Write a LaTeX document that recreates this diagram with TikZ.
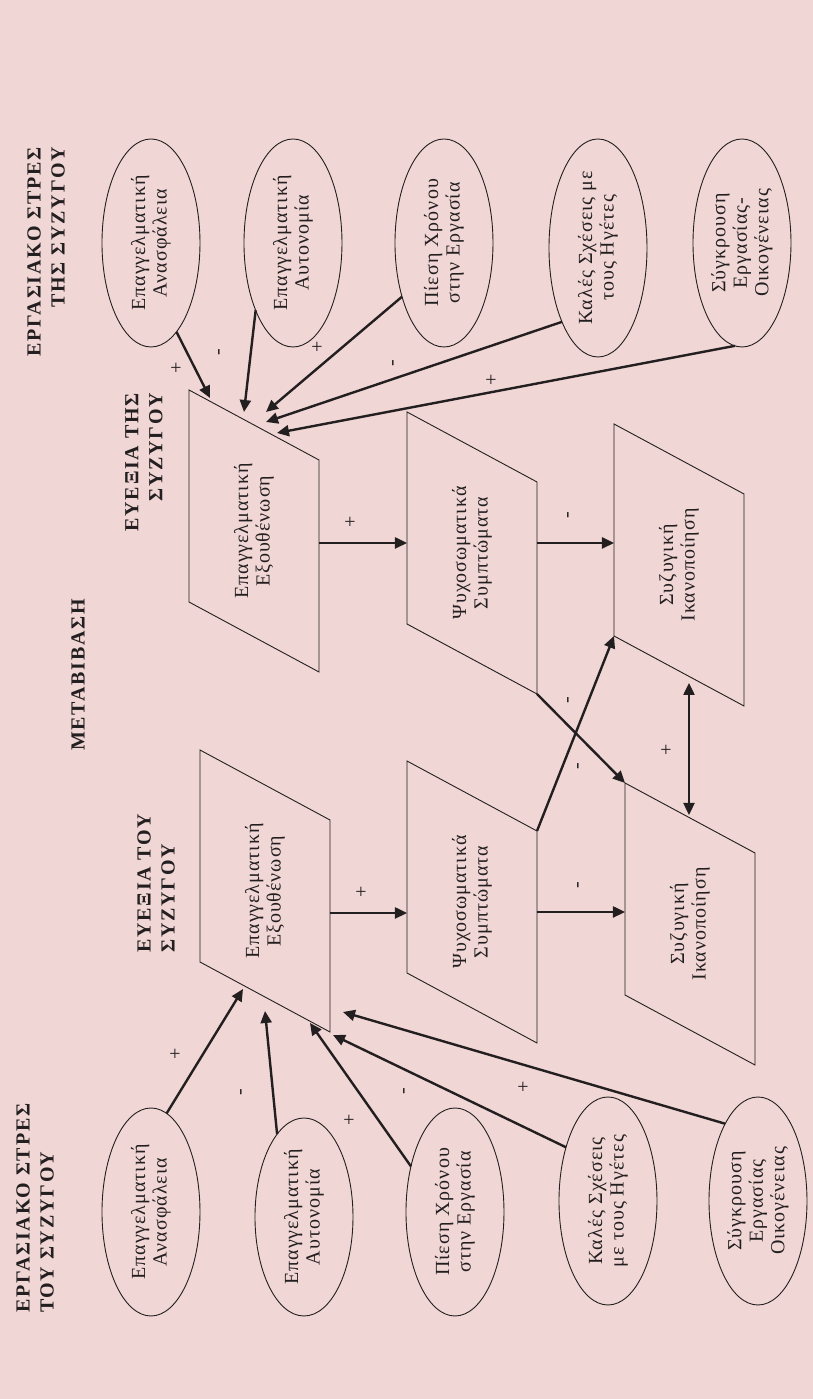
\documentclass[tikz,border=0pt]{standalone}
\usepackage{fontspec}
\setmainfont{Liberation Serif}[LetterSpace=5]
\newfontfamily\headfont[LetterSpace=9]{Liberation Serif}
\usetikzlibrary{arrows.meta,shapes.geometric,calc}

\definecolor{paper}{RGB}{240,214,212}
\definecolor{ink}{RGB}{35,31,32}

\tikzset{
  factor/.style={ellipse, draw=ink, line width=0.9pt, minimum width=208pt,
    minimum height=98pt, inner sep=0pt, outer sep=0pt, align=center,
    text=ink, font=\fontsize{20}{21.5}\selectfont},
  plate/.style={align=center, text=ink, font=\fontsize{20}{21.5}\selectfont},
  box/.style={draw=ink, line width=0.9pt},
  head/.style={inner sep=0pt, text=ink, font=\headfont\bfseries\fontsize{20}{24}\selectfont},
  sgn/.style={inner sep=0pt, text=ink, font=\fontsize{20}{21}\selectfont},
  arr/.style={draw=ink, line width=2.4pt, -{Triangle[length=12pt,width=11pt]}},
}

\begin{document}
\begin{tikzpicture}[x=1pt, y=1pt, rotate=90, transform shape]
    % page
    \useasboundingbox (0,0) rectangle (1399,812);
    \fill[paper] (-3,-3) rectangle (1402,815);

    % Titles
    \node[head, align=right, anchor=east] (hTopStress) at (1252,766) {ΕΡΓΑΣΙΑΚΟ ΣΤΡΕΣ\\ΤΗΣ ΣΥΖΥΓΟΥ};
    \node[head, align=left, anchor=west] (hBotStress) at (86,777) {ΕΡΓΑΣΙΑΚΟ ΣΤΡΕΣ\\ΤΟΥ ΣΥΖΥΓΟΥ};
    \node[head, align=right, anchor=east] (hTopWell) at (1006,668) {ΕΥΕΞΙΑ ΤΗΣ\\ΣΥΖΥΓΟΥ};
    \node[head, align=left, anchor=west] (hBotWell) at (446,656) {ΕΥΕΞΙΑ ΤΟΥ\\ΣΥΖΥΓΟΥ};
    \node[head] (hTrans) at (724,734) {ΜΕΤΑΒΙΒΑΣΗ};

    % Stress factors of the wife
    \node[factor] (topIns) at (1156,661) {Επαγγελματική\\Ανασφάλεια};
    \node[factor] (topAut) at (1156,519) {Επαγγελματική\\Αυτονομία};
    \node[factor] (topPres) at (1156,368) {Πίεση Χρόνου\\στην Εργασία};
    \node[factor, minimum width=218pt] (topRel) at (1151,214) {Καλές Σχέσεις με\\τους Ηγέτες};
    \node[factor] (topConf) at (1156,70) {Σύγκρουση\\Εργασίας-\\Οικογένειας};

    % Stress factors of the husband
    \node[factor] (botIns) at (187,661) {Επαγγελματική\\Ανασφάλεια};
    \node[factor, minimum width=198pt] (botAut) at (182,508) {Επαγγελματική\\Αυτονομία};
    \node[factor] (botPres) at (187,357) {Πίεση Χρόνου\\στην Εργασία};
    \node[factor] (botRel) at (198,204) {Καλές Σχέσεις\\με τους Ηγέτες};
    \node[factor] (botConf) at (198,54) {Σύγκρουση\\Εργασίας\\Οικογένειας};

    % Well-being plates
    \foreach \nm/\x/\y/\txt in {topBurn/868/558/{Επαγγελματική\\Εξουθένωση},
        topSym/846/340/{Ψυχοσωματικά\\Συμπτώματα}, topSat/834/133/{Συζυγική\\Ικανοποίηση},
        botBurn/508/547/{Επαγγελματική\\Εξουθένωση}, botSym/497/340/{Ψυχοσωματικά\\Συμπτώματα},
        botSat/475/122/{Συζυγική\\Ικανοποίηση}} {
      \node[plate] (\nm) at (\x,\y) {\txt};
      \coordinate (\nm-nw) at (\x-71,\y+65);
      \coordinate (\nm-ne) at (\x+141,\y+65);
      \coordinate (\nm-se) at (\x+71,\y-65);
      \coordinate (\nm-sw) at (\x-141,\y-65);
      \draw[box] (\nm-nw) -- (\nm-ne) -- (\nm-se) -- (\nm-sw) -- cycle;
    }

    % Arrows into burnout
    \draw[arr] (topIns.196) -- ($(topBurn)+(133,44)$);
    \draw[arr] (topAut.151) -- ($(topBurn)+(119,10)$);
    \draw[arr] (topPres.142) -- ($(topBurn)+(119,-12)$);
    \draw[arr] (topRel.154) -- ($(topBurn)+(109,-12)$);
    \draw[arr] (topConf.176) -- ($(topBurn)+(98,-23)$);
    \draw[arr] (botIns.-9) -- ($(botBurn)+(-98,22)$);
    \draw[arr] (botAut.18) -- ($(botBurn)+(-120,0)$);
    \draw[arr] (botPres.44) -- ($(botBurn)+(-132,-45)$);
    \draw[arr] (botRel.38) -- ($(botBurn)+(-144,-68)$);
    \draw[arr] (botConf.23) -- ($(botBurn)+(-121,-78)$);

    % Chain and crossover
    \draw[arr] ($(topBurn)+(-12,-65)$) -- ($(topSym)+(10,65)$);
    \draw[arr] ($(topSym)+(10,-65)$) -- ($(topSat)+(22,65)$);
    \draw[arr] ($(botBurn)+(-22,-65)$) -- ($(botSym)+(-11,65)$);
    \draw[arr] ($(botSym)+(-10,-65)$) -- ($(botSat)+(12,65)$);
    \draw[arr] (topSym-sw) -- (botSat-ne);
    \draw[arr] (botSym-se) -- (topSat-nw);
    \draw[arr, {Triangle[length=12pt,width=11pt]}-{Triangle[length=12pt,width=11pt]}]
      ($(topSat)+(-118,-10)$) -- ($(botSat)+(109,1)$);

    % Signs
    \foreach \s/\x/\y [count=\i] in {+/1031/635, -/1047/591, +/1052/494, -/1036/417, +/1019/320,
        +/877/461, -/884/242, +/507/450, -/514/232, -/699/242, -/633/232, +/649/145,
        +/345/636, -/307/569, +/279/462, -/308/406, +/312/288}
      \node[sgn] (sg\i) at (\x,\y) {\s};
\end{tikzpicture}
\end{document}
